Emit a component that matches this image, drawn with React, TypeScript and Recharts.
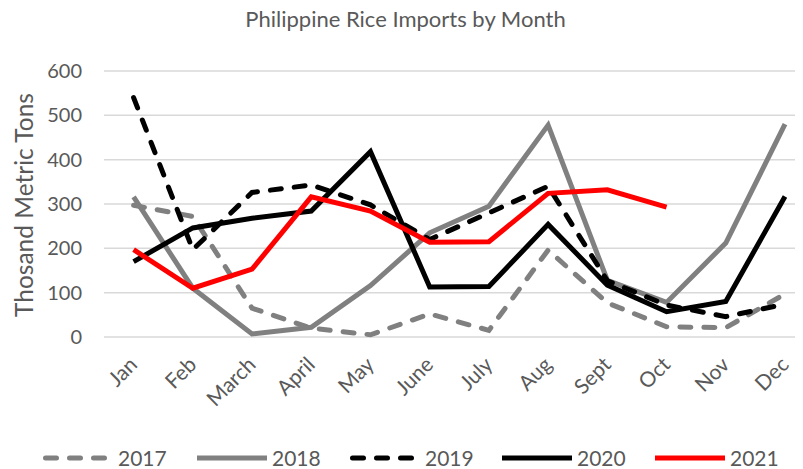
import React from "react";
import { LineChart, Line, XAxis, YAxis, CartesianGrid } from "recharts";

const months = ["Jan", "Feb", "March", "April", "May", "June", "July", "Aug", "Sept", "Oct", "Nov", "Dec"];
const y2017 = [297, 272, 65, 20, 5, 52, 15, 196, 77, 23, 21, 97];
const y2018 = [316, 110, 7, 22, 116, 235, 295, 478, 128, 78, 212, 480];
const y2019 = [540, 197, 326, 343, 298, 220, 280, 340, 127, 72, 46, 74];
const y2020 = [170, 246, 268, 284, 418, 113, 114, 254, 117, 57, 80, 317];
const y2021: (number | null)[] = [197, 110, 153, 316, 284, 214, 215, 324, 332, 293, null, null];
const yTicks = [0, 100, 200, 300, 400, 500, 600];

const series = [
  { key: "2017", values: y2017, color: "#808080", dash: true },
  { key: "2018", values: y2018, color: "#808080", dash: false },
  { key: "2019", values: y2019, color: "#000000", dash: true },
  { key: "2020", values: y2020, color: "#000000", dash: false },
  { key: "2021", values: y2021, color: "#ff0000", dash: false },
];

const data = months.map((m, i) => {
  const row: Record<string, any> = { month: m };
  series.forEach((s) => {
    row[s.key] = s.values[i];
  });
  return row;
});

const FONT = "Lato, 'Open Sans', sans-serif";
const TXT = "#595959";

const renderXTick = (props: any) => {
  const { x, y, payload } = props;
  const ax = x + 5;
  const ay = y;
  return (
    <text
      key={payload.value}
      x={ax}
      y={ay}
      transform={`rotate(-45 ${ax} ${ay})`}
      textAnchor="end"
      fill={TXT}
      fontSize={21}
      fontFamily={FONT}
    >
      {payload.value}
    </text>
  );
};

const legendX = [43, 197, 350, 502, 655];

export default function App() {
  return (
    <div style={{ position: "relative", width: 795, height: 461, fontFamily: FONT }}>
      <div
        style={{
          position: "absolute",
          left: 0,
          top: -2,
          width: 795,
          textAlign: "center",
          fontSize: 22,
          color: TXT,
          lineHeight: "26px",
        }}
      >
        Philippine Rice Imports by Month
      </div>
      <div
        style={{
          position: "absolute",
          left: 16,
          top: 197,
          width: 0,
          height: 0,
        }}
      >
        <div
          style={{
            position: "absolute",
            transform: "translate(-50%, -50%) rotate(-90deg)",
            whiteSpace: "nowrap",
            fontSize: 24.5,
            color: TXT,
            lineHeight: "28px",
          }}
        >
          Thosand Metric Tons
        </div>
      </div>
      <LineChart
        width={795}
        height={461}
        data={data}
        margin={{ top: 63, right: 0, bottom: 102, left: 0 }}
      >
        <CartesianGrid vertical={false} stroke="#d9d9d9" strokeWidth={1.5} />
        <XAxis
          dataKey="month"
          scale="point"
          height={30}
          padding={{ left: 29.6, right: 18 }}
          axisLine={false}
          tickLine={false}
          tickSize={0}
          tickMargin={29}
          interval={0}
          tick={renderXTick}
        />
        <YAxis
          width={96}
          domain={[0, 600]}
          ticks={yTicks}
          axisLine={false}
          tickLine={false}
          tickSize={0}
          tickMargin={22}
          tick={{ fill: TXT, fontSize: 20, fontFamily: FONT }}
        />
        {series.map((s) => (
          <Line
            key={s.key}
            dataKey={s.key}
            type="linear"
            stroke={s.color}
            strokeWidth={5}
            strokeDasharray={s.dash ? "11 13" : undefined}
            strokeLinecap={s.dash ? "round" : "butt"}
            dot={false}
            activeDot={false}
            isAnimationActive={false}
          />
        ))}
      </LineChart>
      <svg
        width={795}
        height={40}
        style={{ position: "absolute", left: 0, top: 430 }}
      >
        {series.map((s, i) => {
          const lx = legendX[i] - 8;
          return (
            <g key={s.key}>
              <line
                x1={lx + (s.dash ? 2.5 : 0)}
                x2={lx + 70}
                y1={20}
                y2={20}
                stroke={s.color}
                strokeWidth={5}
                strokeDasharray={s.dash ? "11 13" : undefined}
                strokeLinecap={s.dash ? "round" : "butt"}
              />
              <text
                x={lx + 75}
                y={20}
                dy="0.36em"
                fill={TXT}
                fontSize={21}
                fontFamily={FONT}
              >
                {s.key}
              </text>
            </g>
          );
        })}
      </svg>
    </div>
  );
}
